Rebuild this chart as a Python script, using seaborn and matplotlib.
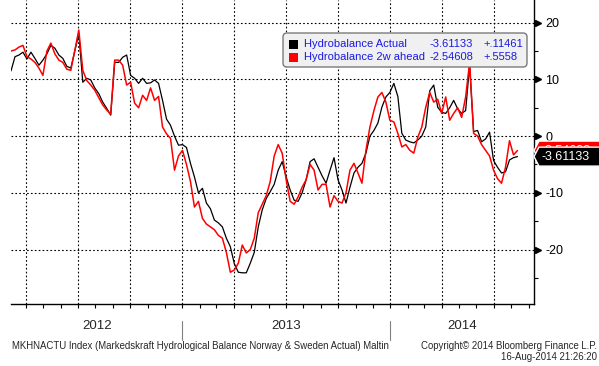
import matplotlib
matplotlib.use('Agg')
import matplotlib.pyplot as plt
import matplotlib.dates as mdates
import matplotlib.transforms as mtransforms
from matplotlib.patches import Polygon, FancyBboxPatch, Rectangle
import numpy as np
import pandas as pd
import seaborn as sns

# weekly readings, first one on start_date
start_date = '2012-03-06'
actual = [11.5, 14.0, 14.3, 14.8, 13.6, 14.8, 13.7, 12.5, 13.4, 14.5,
          16.0, 15.5, 14.3, 13.7, 12.3, 12.0, 15.0, 18.1, 9.5, 10.2,
          9.9, 8.5, 7.5, 6.0, 4.9, 3.7, 13.0, 13.0, 13.9, 14.3,
          10.7, 10.2, 9.3, 10.2, 9.3, 9.4, 9.9, 9.3, 6.3, 3.0,
          1.9, 0.0, -1.6, -1.5, -2.0, -4.8, -7.2, -10.0, -9.2, -11.8,
          -12.8, -14.8, -15.3, -16.0, -18.0, -19.5, -22.5, -24.0, -24.1, -24.1,
          -22.4, -20.5, -16.0, -13.0, -11.0, -9.8, -8.5, -6.0, -4.5, -7.2,
          -9.5, -11.3, -11.5, -10.0, -7.7, -4.5, -4.0, -5.5, -7.0, -8.3,
          -6.0, -3.8, -7.7, -9.5, -11.8, -9.0, -6.5, -5.5, -4.8, -3.0,
          0.0, 1.0, 2.3, 5.1, 6.9, 7.7, 9.3, 7.0, 0.5, -0.7,
          -1.0, -1.2, -0.7, 0.0, 1.6, 8.0, 9.0, 5.1, 4.2, 4.0,
          5.0, 6.3, 4.8, 4.0, 4.5, 12.5, 0.8, 1.0, -1.0, -0.5,
          0.7, -4.3, -5.5, -6.5, -6.3, -4.2, -3.8, -3.61133]
ahead = [15.0, 15.2, 15.7, 16.0, 14.0, 13.6, 13.0, 12.0, 10.7, 15.0,
         16.4, 14.5, 13.4, 13.0, 11.8, 11.6, 15.1, 18.7, 11.6, 9.8,
         9.0, 8.1, 6.8, 5.5, 4.6, 3.9, 13.4, 13.4, 12.5, 9.0,
         9.5, 5.8, 5.0, 7.2, 6.3, 8.5, 6.3, 7.0, 1.6, 0.4,
         -0.4, -6.0, -3.5, -2.5, -5.0, -8.0, -12.5, -11.5, -14.5, -15.5,
         -16.0, -16.5, -17.5, -18.0, -20.5, -24.0, -23.6, -22.4, -19.2, -20.6,
         -20.0, -18.0, -13.5, -12.0, -10.5, -8.0, -3.5, -1.5, -3.0, -7.7,
         -11.5, -12.0, -10.7, -9.0, -7.7, -5.0, -6.0, -9.5, -8.5, -8.5,
         -12.5, -10.5, -11.5, -11.8, -10.0, -6.0, -4.8, -6.5, -8.3, -2.5,
         1.6, 4.5, 6.9, 7.7, 6.0, 2.8, 2.5, 0.5, -1.9, -1.5,
         -2.5, -3.0, -0.2, 1.6, 5.1, 7.7, 6.0, 6.5, 4.0, 6.9,
         2.8, 4.0, 5.0, 3.3, 6.9, 13.0, 0.5, 0.0, -1.5, -2.5,
         -3.5, -6.0, -7.5, -8.3, -5.5, -0.8, -3.3, -2.54608]
series_names = ['Hydrobalance Actual', 'Hydrobalance 2w ahead']
series_colors = ['black', 'red']
changes = ['+.11461', '+.5558']
years = [2012, 2013, 2014]
yticks = [-20, -10, 0, 10, 20]
footer_left = 'MKHNACTU Index (Markedskraft Hydrological Balance Norway & Sweden Actual) Maltin'
footer_right = ['Copyright\u00a9 2014 Bloomberg Finance L.P.', '16-Aug-2014 21:26:20']

dates = pd.date_range(start_date, periods=len(actual), freq='7D')
df = pd.DataFrame({'date': dates, 'actual': actual, 'ahead': ahead})

sns.set_style('white')
plt.rcParams['font.family'] = ['Liberation Sans', 'DejaVu Sans']
plt.rcParams['axes.unicode_minus'] = False

W, H = 599, 366
fig = plt.figure(figsize=(W / 100, H / 100), dpi=100)
ax = fig.add_axes([11 / W, 1 - 304 / H, 523 / W, 304 / H])

sns.lineplot(data=df, x='date', y='actual', color=series_colors[0], lw=0.9, ax=ax, zorder=3)
sns.lineplot(data=df, x='date', y='ahead', color=series_colors[1], lw=1.1, ax=ax, zorder=4)

xmin, xmax = dates[0], pd.Timestamp('2014-09-10')
ax.set_xlim(xmin, xmax)
ax.set_ylim(-29.6, 24)
ax.set_xlabel('')
ax.set_ylabel('')

# x: quarterly grid, monthly ticks, no labels
ax.xaxis.set_major_locator(mdates.MonthLocator(bymonth=[1, 4, 7, 10]))
ax.xaxis.set_minor_locator(mdates.MonthLocator())
ax.xaxis.set_major_formatter(plt.NullFormatter())
ax.tick_params(axis='x', which='both', direction='out', length=3, width=0.8,
               bottom=True, labelbottom=False, color='black')

# y on the right
ax.yaxis.tick_right()
ax.set_yticks(yticks)
ax.set_yticklabels([str(v) for v in yticks])
ax.set_yticks(np.arange(-25, 20, 10), minor=True)
ax.tick_params(axis='y', which='major', length=0, pad=8, labelsize=9, labelcolor='black')
ax.tick_params(axis='y', which='minor', direction='out', length=3, width=0.8,
               right=True, left=False, color='black')

ax.grid(True, which='major', color='black', linestyle=(0, (1.5, 2)), lw=0.8)
ax.set_axisbelow(True)
for s in ['left', 'top']:
    ax.spines[s].set_visible(False)
for s in ['right', 'bottom']:
    ax.spines[s].set_color('black')
    ax.spines[s].set_linewidth(1)

trans = mtransforms.blended_transform_factory(ax.transAxes, ax.transData)
ax.plot([1.0 + 4 / 523] * len(yticks), yticks, marker='>', ls='none', color='black',
        ms=5, transform=trans, clip_on=False)

# last value tags (red one sits behind the black one)
dx = 5 / 523
hh = 9.5 / 5.68
for k, (val, col) in enumerate([(ahead[-1], series_colors[1]), (actual[-1], series_colors[0])]):
    poly = Polygon([(1.0, val), (1 + dx, val + hh), (1.3, val + hh), (1.3, val - hh), (1 + dx, val - hh)],
                   closed=True, transform=trans, fc=col, ec='white', lw=1, clip_on=False, zorder=5 + 2 * k)
    ax.add_patch(poly)
    ax.text(1 + dx + 3 / 523, val, f'{val:.5f}', transform=trans, color='white', fontsize=9,
            va='center', ha='left', clip_on=False, zorder=6 + 2 * k)

# year band below the axis
tx = mtransforms.blended_transform_factory(ax.transData, ax.transAxes)
x0, x1 = mdates.date2num(xmin), mdates.date2num(xmax)
for yr in years:
    a = max(mdates.date2num(pd.Timestamp(f'{yr}-01-01')), x0)
    b = min(mdates.date2num(pd.Timestamp(f'{yr + 1}-01-01')), x1)
    ax.text((a + b) / 2, -0.072, str(yr), transform=tx, ha='center', va='center', fontsize=9.5)
    if yr > years[0]:
        xd = mdates.date2num(pd.Timestamp(f'{yr}-01-01'))
        ax.plot([xd, xd], [-0.056, -0.118], color='#808080', lw=0.8, transform=tx, clip_on=False)

# legend box (pixel coordinates)
ident = mtransforms.IdentityTransform()
def P(x, y):
    return (x, H - y)

box = FancyBboxPatch(P(283, 67), 244, 34, boxstyle='round,pad=0,rounding_size=4',
                     transform=ident, fc='#f0f0f0', ec='#7a7a7a', lw=1, zorder=10)
fig.patches.append(box)
last_vals = [actual[-1], ahead[-1]]
for i, name in enumerate(series_names):
    yc = 44 + 13 * i
    fig.patches.append(Rectangle(P(289, yc + 4.5), 9, 9, transform=ident,
                                 fc=series_colors[i], ec='none', zorder=11))
    fig.text(304 / W, 1 - yc / H, name, color='#1a1ae6', fontsize=8, va='center', ha='left', zorder=12)
    fig.text(430 / W, 1 - yc / H, f'{last_vals[i]:.5f}', color='#1a1ae6', fontsize=8,
             va='center', ha='left', zorder=12)
    fig.text(483 / W, 1 - yc / H, changes[i], color='#1a1ae6', fontsize=8,
             va='center', ha='left', zorder=12)

# footer
fig.text(12 / W, 1 - 346 / H, footer_left, fontsize=6.9, va='center', ha='left')
fig.text(597 / W, 1 - 346 / H, footer_right[0], fontsize=6.9, va='center', ha='right')
fig.text(597 / W, 1 - 357 / H, footer_right[1], fontsize=6.9, va='center', ha='right')

fig.savefig('out.png', dpi=100)
